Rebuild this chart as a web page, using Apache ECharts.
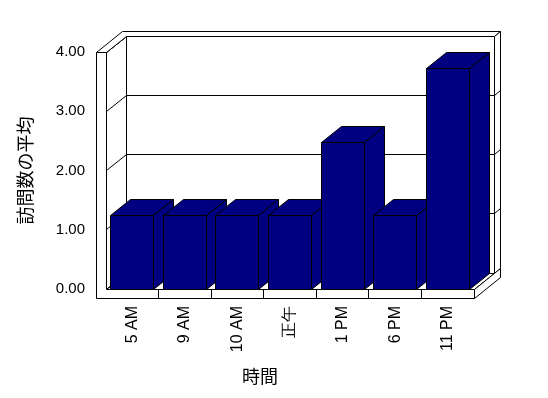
<!DOCTYPE html>
<html><head><meta charset="utf-8">
<script src="https://cdn.jsdelivr.net/npm/echarts@6/dist/echarts.min.js"></script>
<style>html,body{margin:0;padding:0;background:#fff}#c{width:548px;height:398px}</style>
</head><body><div id="c"></div>
<script>
const categories = ['5 AM', '9 AM', '10 AM', '正午', '1 PM', '6 PM', '11 PM'];
const visits = [1.24, 1.24, 1.24, 1.24, 2.48, 1.24, 3.72];
const yTicks = [0, 1, 2, 3, 4];
const yTitle = '訪問数の平均';
const xTitle = '時間';

// projection / style constants
const DX = 20, DY = -16;      // depth of plot box
const TX = 6, TY = -5;        // back-wall thickness
const WALL = 9.5;             // left wall thickness
const FLOOR = 9;              // floor thickness
const BAR_RATIO = 0.82;
const BAR_COLOR = '#000080';
const LINE = {stroke: '#000', lineWidth: 1};

const cr = v => Math.round(v - 0.5) + 0.5;
const P = pts => pts.map(p => [cr(p[0]), cr(p[1])]);
function poly(pts, fill) {
  return {type: 'polygon', shape: {points: P(pts)}, style: Object.assign({fill: fill}, LINE)};
}
function line(a, b) {
  const p = P([a, b]);
  return {type: 'line', shape: {x1: p[0][0], y1: p[0][1], x2: p[1][0], y2: p[1][1]}, style: {stroke: '#000', lineWidth: 1}};
}

function renderFrame(params, api) {
  const cs = params.coordSys;
  const x0 = cs.x, x1 = cs.x + cs.width;
  const yb = api.coord([0, yTicks[0]])[1];
  const yt = api.coord([0, yTicks[yTicks.length - 1]])[1];
  const band = api.size([1, 0])[0];
  const ch = [];
  // back wall front face
  ch.push(poly([[x0 + DX, yt + DY], [x1 + DX, yt + DY], [x1 + DX, yb + DY], [x0 + DX, yb + DY]], '#fff'));
  // left wall inner face
  ch.push(poly([[x0, yt], [x0 + DX, yt + DY], [x0 + DX, yb + DY], [x0, yb]], '#fff'));
  // floor top face
  ch.push(poly([[x0, yb], [x1, yb], [x1 + DX, yb + DY], [x0 + DX, yb + DY]], '#fff'));
  // gridlines
  yTicks.forEach(v => {
    const y = api.coord([0, v])[1];
    ch.push(line([x0, y], [x0 + DX, y + DY]));
    ch.push(line([x0 + DX, y + DY], [x1 + DX, y + DY]));
    if (v !== yTicks[0] && v !== yTicks[yTicks.length - 1]) {
      ch.push(line([x0 - WALL, y], [x0, y]));
    }
  });
  // top faces (left wall + back wall)
  ch.push(poly([[x0 - WALL, yt], [x0, yt], [x0 + DX, yt + DY], [x1 + DX, yt + DY],
                [x1 + DX + TX, yt + DY + TY], [x0 - WALL + DX + TX, yt + DY + TY]], '#fff'));
  // back wall right face
  ch.push(poly([[x1 + DX, yt + DY], [x1 + DX + TX, yt + DY + TY], [x1 + DX + TX, yb + DY + TY], [x1 + DX, yb + DY]], '#fff'));
  // floor right face
  ch.push(poly([[x1, yb], [x1, yb + FLOOR], [x1 + DX + TX, yb + FLOOR + DY + TY], [x1 + DX + TX, yb + DY + TY]], '#fff'));
  // ticks on right face
  yTicks.slice(1, -1).forEach(v => {
    const y = api.coord([0, v])[1];
    ch.push(line([x1 + DX, y + DY], [x1 + DX + TX, y + DY + TY]));
  });
  // front L face (left wall front + floor front)
  ch.push(poly([[x0 - WALL, yt], [x0, yt], [x0, yb], [x1, yb], [x1, yb + FLOOR], [x0 - WALL, yb + FLOOR]], '#fff'));
  for (let i = 1; i < categories.length; i++) {
    const x = x0 + i * band;
    ch.push(line([x, yb], [x, yb + FLOOR]));
  }
  return {type: 'group', children: ch};
}

function renderBar(params, api) {
  const i = api.value(0), v = api.value(1);
  const c = api.coord([i, v]);
  const base = api.coord([i, 0]);
  const w = api.size([1, 0])[0] * BAR_RATIO;
  const xl = c[0] - w / 2, xr = c[0] + w / 2, yt = c[1], yb = base[1];
  return {type: 'group', children: [
    poly([[xl, yt], [xr, yt], [xr, yb], [xl, yb]], BAR_COLOR),
    poly([[xl, yt], [xr, yt], [xr + DX, yt + DY], [xl + DX, yt + DY]], BAR_COLOR),
    poly([[xr, yt], [xr + DX, yt + DY], [xr + DX, yb + DY], [xr, yb]], BAR_COLOR)
  ]};
}

const chart = echarts.init(document.getElementById('c'), null, {renderer: 'canvas'});
chart.setOption({
  backgroundColor: '#fff',
  animation: false,
  grid: {left: 106, top: 52, width: 368, height: 237, containLabel: false},
  xAxis: {
    type: 'category', data: categories,
    axisLine: {show: false}, axisTick: {show: false}, splitLine: {show: false},
    axisLabel: {rotate: 90, margin: 17, color: '#000', fontFamily: 'Liberation Sans', fontSize: 16, interval: 0},
    name: xTitle, nameLocation: 'middle', nameGap: 78,
    nameTextStyle: {color: '#000', fontFamily: 'Noto Sans CJK JP', fontSize: 18, padding: [0, 60, 0, 0]}
  },
  yAxis: {
    type: 'value', min: yTicks[0], max: yTicks[yTicks.length - 1], interval: 1,
    axisLine: {show: false}, axisTick: {show: false}, splitLine: {show: false},
    axisLabel: {margin: 21, color: '#000', fontFamily: 'Liberation Sans', fontSize: 15, formatter: v => v.toFixed(2)},
    name: yTitle, nameLocation: 'middle', nameGap: 72, nameRotate: 90,
    nameTextStyle: {color: '#000', fontFamily: 'Noto Sans CJK JP', fontSize: 18}
  },
  series: [
    {type: 'custom', renderItem: renderFrame, data: [[0, 0]], z: 1, silent: true, clip: false},
    {type: 'custom', renderItem: renderBar, data: visits.map((v, i) => [i, v]), encode: {x: 0, y: 1}, z: 2, silent: true, clip: false}
  ]
});
</script></body></html>
